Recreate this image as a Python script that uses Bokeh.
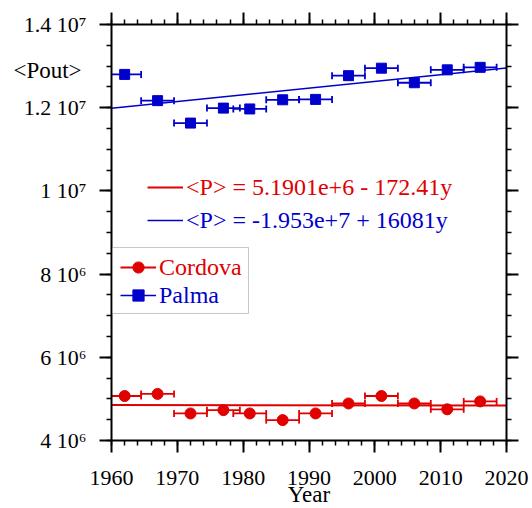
from bokeh.plotting import figure
from bokeh.models import (Range1d, LinearAxis, SingleIntervalTicker, Legend, LegendItem,
                          Label, BoxAnnotation, ColumnDataSource)
from bokeh.embed import file_html
from bokeh.resources import INLINE

# ---------------- data ----------------
years = [1962, 1967, 1972, 1977, 1981, 1986, 1991, 1996, 2001, 2006, 2011, 2016]
year_err = [2.5] * 12
palma = [12.80e6, 12.17e6, 11.63e6, 11.99e6, 11.97e6, 12.19e6, 12.20e6,
         12.77e6, 12.95e6, 12.60e6, 12.91e6, 12.97e6]
cordova = [5.07e6, 5.12e6, 4.65e6, 4.73e6, 4.65e6, 4.49e6, 4.65e6,
           4.89e6, 5.07e6, 4.89e6, 4.75e6, 4.94e6]

cordova_fit = (5.1901e6, -172.41)   # intercept, slope
palma_fit = (-1.953e7, 16081.0)

cordova_eq = "<P> = 5.1901e+6 - 172.41y"
palma_eq = "<P> = -1.953e+7 + 16081y"

X_MIN, X_MAX = 1960, 2020
Y_MIN, Y_MAX = 4e6, 1.4e7
y_ticks = [4e6, 6e6, 8e6, 1e7, 1.2e7, 1.4e7]
y_tick_labels = ["4 10\u2076", "6 10\u2076", "8 10\u2076", "1 10\u2077", "1.2 10\u2077", "1.4 10\u2077"]

RED = "#e00000"
BLUE = "#0000cc"
FONT = "Liberation Serif"

# ---------------- figure ----------------
# The plotting frame covers the whole canvas; the visible box is drawn by axes at fixed locations.
W, H = 532, 508
FL, FR, FT, FB = 111, 506, 24, 440          # pixel box of the visible axes
xs = (FR - FL) / (X_MAX - X_MIN)
ys = (FB - FT) / (Y_MAX - Y_MIN)
x_range = Range1d(X_MIN - FL / xs, X_MAX + (W - FR) / xs)
y_range = Range1d(Y_MIN - (H - FB) / ys, Y_MAX + FT / ys)

p = figure(width=W, height=H, output_backend="svg", toolbar_location=None,
           x_range=x_range, y_range=y_range,
           min_border=0, min_border_left=0, min_border_right=0, min_border_top=0, min_border_bottom=0,
           x_axis_location=None, y_axis_location=None)
p.grid.visible = False
p.outline_line_color = None
p.background_fill_color = "white"
p.border_fill_color = "white"

def make_axis(kind, loc, labels=True):
    if kind == "x":
        ax = LinearAxis(ticker=SingleIntervalTicker(interval=10, num_minor_ticks=5),
                        bounds=(X_MIN, X_MAX), fixed_location=loc)
    else:
        ax = LinearAxis(ticker=SingleIntervalTicker(interval=2e6, num_minor_ticks=4),
                        bounds=(Y_MIN, Y_MAX), fixed_location=loc)
        ax.major_label_overrides = {float(v): s for v, s in zip(y_ticks, y_tick_labels)}
    ax.axis_line_width = 2
    ax.major_tick_line_width = 2
    ax.minor_tick_line_width = 1.5
    ax.major_tick_out = 12
    ax.major_tick_in = 0
    ax.minor_tick_out = 5
    ax.minor_tick_in = 0
    ax.major_label_text_font = FONT
    ax.major_label_text_font_size = "22px"
    if labels:
        ax.major_label_text_color = "black"
        ax.major_label_standoff = 18 if kind == "x" else 13
    else:
        ax.major_label_text_color = None
    return ax

p.add_layout(make_axis("x", Y_MIN), "below")
p.add_layout(make_axis("x", Y_MAX, labels=False), "above")
p.add_layout(make_axis("y", X_MIN), "left")
p.add_layout(make_axis("y", X_MAX, labels=False), "right")

# ---------------- fit lines ----------------
fit_x = [X_MIN, X_MAX]
red_fit = p.line(fit_x, [cordova_fit[0] + cordova_fit[1] * x for x in fit_x],
                 line_color=RED, line_width=2)
blue_fit = p.line(fit_x, [palma_fit[0] + palma_fit[1] * x for x in fit_x],
                  line_color=BLUE, line_width=1.5)

# ---------------- error bars + markers ----------------
def series(vals, color, marker, size):
    lo = [x - e for x, e in zip(years, year_err)]
    hi = [x + e for x, e in zip(years, year_err)]
    src = ColumnDataSource(dict(
        x=years, y=vals,
        lo=[max(v, X_MIN) for v in lo], hi=[min(v, X_MAX) for v in hi],
        lo_cap=[v if v >= X_MIN else float("nan") for v in lo],
        hi_cap=[v if v <= X_MAX else float("nan") for v in hi]))
    p.segment(x0="lo", y0="y", x1="hi", y1="y", source=src, line_color=color, line_width=1.8)
    p.scatter(x="lo_cap", y="y", source=src, marker="dash", angle=1.5708, size=7,
              line_color=color, line_width=1.8)
    p.scatter(x="hi_cap", y="y", source=src, marker="dash", angle=1.5708, size=7,
              line_color=color, line_width=1.8)
    return p.scatter(x="x", y="y", source=src, marker=marker, size=size,
                     fill_color=color, line_color=color)

red_pts = series(cordova, RED, "circle", 11)
blue_pts = series(palma, BLUE, "square", 10)

# ---------------- legends ----------------
def one_legend(label, rends, color, loc):
    lg = Legend(items=[LegendItem(label=label, renderers=rends)], location=loc,
                orientation="vertical", border_line_color=None, background_fill_alpha=0,
                padding=0, margin=0, spacing=0, glyph_width=36, glyph_height=28,
                label_height=28, label_standoff=3,
                label_text_font=FONT, label_text_font_size="24px", label_text_color=color)
    p.add_layout(lg, "center")

# equations (location = pixels from bottom-left of canvas)
one_legend(cordova_eq, [red_fit], RED, (147, 307))
one_legend(palma_eq, [blue_fit], BLUE, (147, 274))

# series legend box
box = BoxAnnotation(left=X_MIN + 0.15, right=1980.81, bottom=7.053e6, top=8.639e6,
                    fill_color="white", fill_alpha=1, line_color="#444444", line_width=1,
                    level="annotation")
p.add_layout(box)
one_legend("Cordova", [red_fit, red_pts], RED, (120, 227))
one_legend("Palma", [blue_fit, blue_pts], BLUE, (120, 199))

# ---------------- axis titles ----------------
p.add_layout(Label(x=1945.1, y=12.894e6, text="<Pout>", text_font=FONT, text_font_size="23px",
                   text_align="left", text_baseline="middle", text_color="black"))
p.add_layout(Label(x=1990, y=2.69e6, text="Year", text_font=FONT, text_font_size="23px",
                   text_align="center", text_baseline="alphabetic", text_color="black"))

open("out.html", "w").write(file_html(p, INLINE))
